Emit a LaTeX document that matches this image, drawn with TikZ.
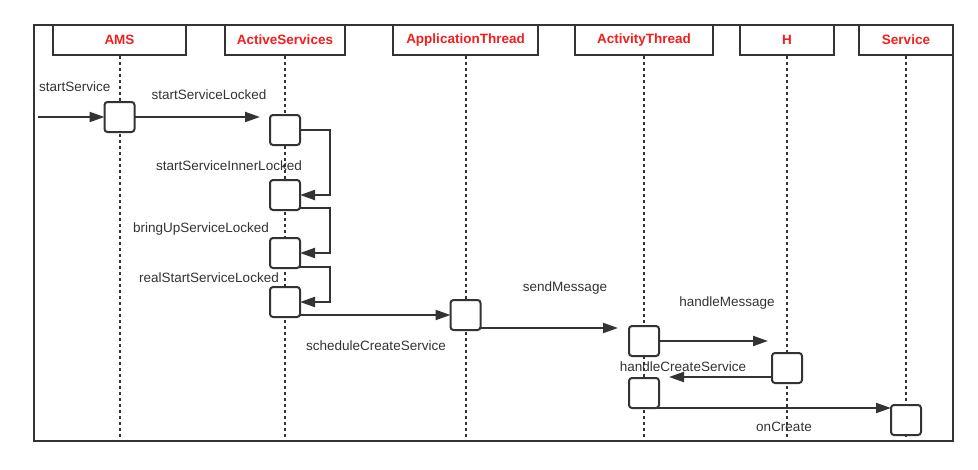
\documentclass[tikz,border=0pt]{standalone}
\usepackage{fontspec}
\setmainfont{Liberation Sans}
\usetikzlibrary{arrows.meta,calc}
\definecolor{ln}{RGB}{51,51,51}
\definecolor{hd}{RGB}{245,30,30}
\begin{document}
\begin{tikzpicture}[x=1pt,y=-1pt,
 hdr/.style={draw=ln, line width=2pt, fill=white, minimum height=30pt, inner sep=0pt, outer sep=0pt, text=hd, font=\fontsize{13.5}{15}\selectfont\bfseries, anchor=north west},
 act/.style={draw=ln, line width=2pt, fill=white, rounded corners=3pt, minimum width=30pt, minimum height=30pt, inner sep=0pt, outer sep=0pt},
 life/.style={draw=ln, line width=2pt, dash pattern=on 3pt off 3pt},
 msg/.style={draw=ln, line width=2pt, -{Triangle[length=15pt,width=10pt]}},
 lbl/.style={text=ln, font=\fontsize{13.5}{15}\selectfont, inner sep=0pt},
]
\useasboundingbox (0,0) rectangle (978,469);
\node[draw=ln, line width=2pt, minimum width=919pt, minimum height=416pt, inner sep=0pt, outer sep=0pt, anchor=north west] (frame) at (34,25) {};

% labels
\node[lbl, anchor=west] (l1) at (39,87) {startService};
\node[lbl] (l2) at (209,95) {startServiceLocked};
\node[lbl] (l3) at (229,166) {startServiceInnerLocked};
\node[lbl] (l4) at (201,229) {bringUpServiceLocked};
\node[lbl] (l5) at (209,278) {realStartServiceLocked};
\node[lbl] (l6) at (376,346) {scheduleCreateService};
\node[lbl] (l7) at (565,288) {sendMessage};
\node[lbl] (l8) at (727,303) {handleMessage};
\node[lbl] (l9) at (683,367) {handleCreateService};
\node[lbl] (l10) at (784,427) {onCreate};

% headers
\node[hdr, minimum width=133pt] (hAMS) at (53,25) {AMS};
\node[hdr, minimum width=120pt] (hAS) at (225,25) {ActiveServices};
\node[hdr, minimum width=145pt] (hApp) at (393,25) {ApplicationThread};
\node[hdr, minimum width=138pt] (hAct) at (575,25) {ActivityThread};
\node[hdr, minimum width=94pt] (hH) at (740,25) {H};
\node[hdr, minimum width=94pt] (hSvc) at (859,25) {Service};

% lifelines
\foreach \h in {hAMS,hAS,hApp,hAct,hH,hSvc}{
  \coordinate (\h-end) at (\h.south |- frame.south);
  \draw[life] ($(\h.south)+(0,1)$) -- (\h-end);
}

% activation boxes
\node[act] (ams) at (hAMS.south |- 0,117) {};
\node[act] (as1) at (hAS.south |- 0,130) {};
\node[act] (as2) at (hAS.south |- 0,195) {};
\node[act] (as3) at (hAS.south |- 0,253) {};
\node[act] (as4) at (hAS.south |- 0,302) {};
\node[act] (app) at (hApp.south |- 0,315) {};
\node[act] (at1) at (hAct.south |- 0,341) {};
\node[act] (hb)  at (hH.south |- 0,368) {};
\node[act] (at2) at (hAct.south |- 0,393) {};
\node[act] (svc) at (hSvc.south |- 0,420) {};

% free ends
\coordinate (s0) at (38,117);
\coordinate (e1) at (260,117);
\coordinate (e2) at (618,328);
\coordinate (e3) at (768,341);
\coordinate (e4) at (669,377);
\coordinate (e5) at ($(at2.south east)+(-2,0)$);

% messages
\draw[msg] (s0) -- (ams.west);
\draw[msg] (ams.east) -- (e1);
\draw[msg] (as1.east) -- ++(30,0) |- (as2.east);
\draw[msg] ($(as2.east)+(0,13)$) -- ++(30,0) |- (as3.east);
\draw[msg] ($(as3.east)+(0,14)$) -- ++(30,0) |- (as4.east);
\draw[msg] ($(as4.east)+(0,13)$) -- (app.west |- 0,315);
\draw[msg] ($(app.east)+(0,13)$) -- (e2);
\draw[msg] (at1.east) -- (e3);
\draw[msg] ($(hb.west)+(0,9)$) -- (e4);
\draw[msg] (e5) -- (svc.west |- e5);
\end{tikzpicture}
\end{document}
